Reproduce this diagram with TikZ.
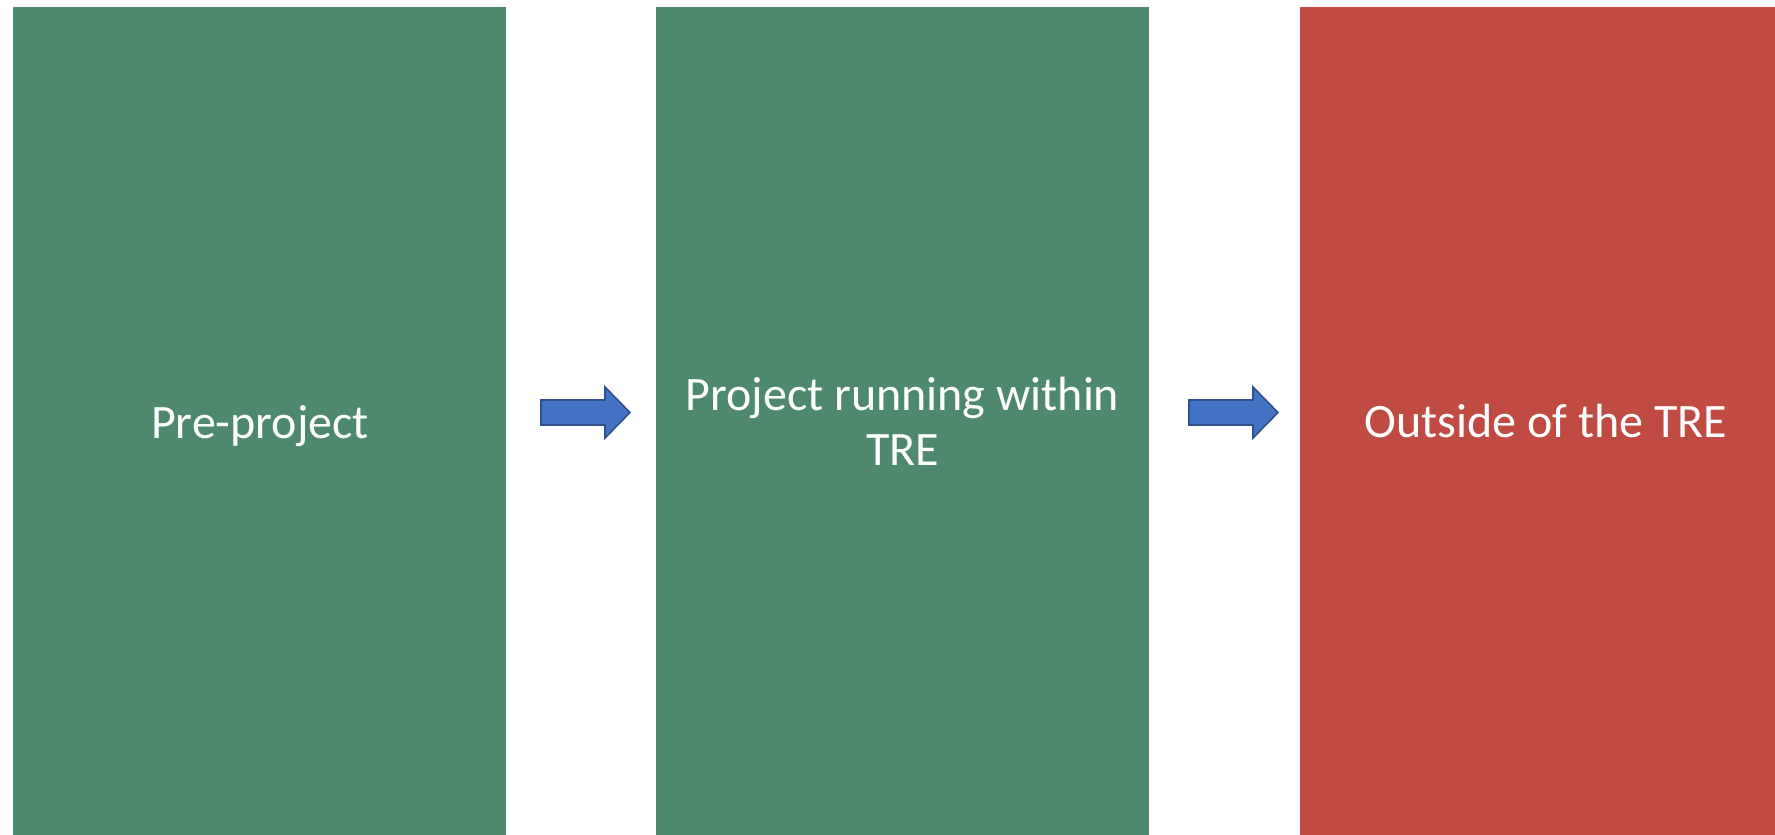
\documentclass[tikz,border=0pt]{standalone}
\usepackage{fontspec}
\setmainfont{Carlito}
\definecolor{stagegreen}{RGB}{78,137,110}
\definecolor{stagered}{RGB}{192,75,66}
\definecolor{arrowfill}{RGB}{68,114,196}
\definecolor{arrowline}{RGB}{47,82,143}
\begin{document}
\begin{tikzpicture}[x=1pt,y=-1pt,
  stagebox/.style={draw=none,inner sep=0pt,minimum width=493pt,minimum height=828pt},
  stagetext/.style={text=white,font=\fontsize{48}{55}\selectfont,align=center,inner sep=0pt},
  flowarrow/.style={fill=arrowfill,draw=arrowline,line width=1.6pt,line join=miter}]
  \useasboundingbox (0,0) rectangle (1775,835);
  % stage boxes
  \node[stagebox,fill=stagegreen] (pre) at (259.5,421) {};
  \node[stagebox,fill=stagegreen] (run) at (902.5,421) {};
  \fill[stagered] (1300,7) rectangle (1775,835);
  \coordinate (out) at (1546.5,421);
  % stage labels (base = baseline of the last line)
  \node[stagetext,anchor=base] (preLbl) at (260,438) {Pre-project};
  \node[stagetext,anchor=base] (runLbl) at (902.5,465) {Project running within\\TRE};
  \node[stagetext,anchor=base] (outLbl) at (1546,437) {Outside of the TRE};
  % block arrows between stages
  \coordinate (a1) at (541,412.5);
  \coordinate (a2) at (1189,412.5);
  \foreach \s in {a1,a2}{
    \draw[flowarrow] ([yshift=12.5pt]\s) -- ++(64,0) -- ++(0,-13) -- ++(25,25.5)
      -- ++(-25,25.5) -- ++(0,-13) -- ++(-64,0) -- cycle;
  }
\end{tikzpicture}
\end{document}
